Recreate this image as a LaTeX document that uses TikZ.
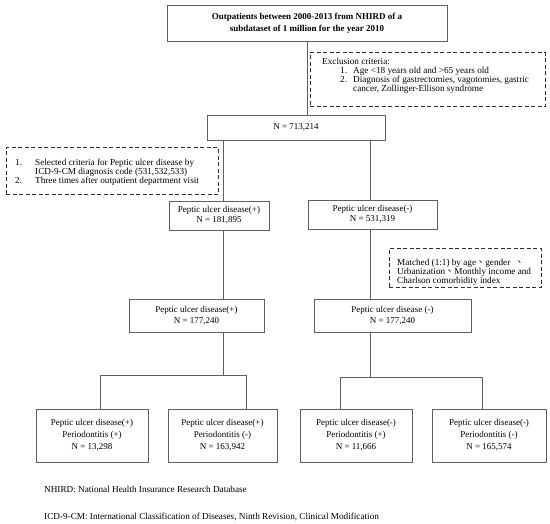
\documentclass[tikz,border=0pt]{standalone}
\usepackage{fontspec}
\setmainfont{Liberation Serif}
\newfontfamily\cjk{Noto Sans CJK TC}
\begin{document}
\begin{tikzpicture}[x=1pt,y=-1pt,
  lc/.style={draw={rgb,255:red,95;green,95;blue,95}, line width=0.9pt},
  sbox/.style={lc, inner sep=0pt, align=center, font=\fontsize{9}{10}\selectfont},
  dbox/.style={draw={rgb,255:red,45;green,45;blue,45}, line width=1pt, dash pattern=on 4pt off 2.5pt, inner sep=0pt},
  lbl/.style={inner sep=0pt, align=left, anchor=north west, font=\fontsize{9.2}{9}\selectfont},
  foot/.style={inner sep=0pt, anchor=base west, font=\fontsize{9.2}{10}\selectfont},
  conn/.style={lc}
]
\useasboundingbox (0,0) rectangle (550,524);
\fill[white] (0,0) rectangle (550,524);

% boxes
\node[sbox, minimum width=280pt, minimum height=36pt, font=\bfseries\fontsize{9}{12}\selectfont] (top) at (307,23)
  {Outpatients between 2000-2013 from NHIRD of a\\subdataset of 1 million for the year 2010};

\node[dbox, minimum width=235pt, minimum height=54pt] (excl) at (427.5,80) {};
\node[lbl] (excltxt) at (322,58)
  {Exclusion criteria:\\
   \hspace*{18pt}\makebox[13pt][l]{1.}Age <18 years old and >65 years old\\
   \hspace*{18pt}\makebox[13pt][l]{2.}Diagnosis of gastrectomies, vagotomies, gastric\\
   \hspace*{31pt}cancer, Zollinger-Ellison syndrome};

\node[sbox, minimum width=178pt, minimum height=25pt] (n) at (296,127.5) {N = 713,214};

\node[dbox, minimum width=212pt, minimum height=47pt] (sel) at (112,171.5) {};
\node[lbl] (seltxt) at (15,158.5)
  {\makebox[20pt][l]{1.}Selected criteria for Peptic ulcer disease by\\
   \hspace*{20pt}ICD-9-CM diagnosis code (531,532,533)\\
   \makebox[20pt][l]{2.}Three times after outpatient department visit};

\node[sbox, minimum width=100pt, minimum height=29pt] (pp) at (219,215.5) {Peptic ulcer disease(+)\\N = 181,895};
\node[sbox, minimum width=129pt, minimum height=29pt] (pm) at (372.5,214.5) {Peptic ulcer disease(-)\\N = 531,319};

\node[dbox, minimum width=152pt, minimum height=39pt] (match) at (465,268.5) {};
\node[lbl] (matchtxt) at (397,258.5)
  {Matched (1:1) by age{\cjk 、}gender \ {\cjk 、}\\
   Urbanization{\cjk 、}Monthly income and\\
   Charlson comorbidity index};

\node[sbox, minimum width=135pt, minimum height=33pt, font=\fontsize{9}{11}\selectfont] (pp2) at (196.5,315.5) {Peptic ulcer disease(+)\\N = 177,240};
\node[sbox, minimum width=157pt, minimum height=33pt, font=\fontsize{9}{11}\selectfont] (pm2) at (392.5,315.5) {Peptic ulcer disease (-)\\N = 177,240};

\tikzset{bb/.style={sbox, minimum height=53pt, font=\fontsize{9}{12}\selectfont}}
\node[bb, minimum width=112pt] (b1) at (92,435.5) {Peptic ulcer disease(+)\\Periodontitis (+)\\N = 13,298};
\node[bb, minimum width=109pt] (b2) at (222.5,435.5) {Peptic ulcer disease(+)\\Periodontitis (-)\\N = 163,942};
\node[bb, minimum width=112pt] (b3) at (356,435.5) {Peptic ulcer disease(-)\\Periodontitis (+)\\N = 11,666};
\node[bb, minimum width=114pt] (b4) at (489,435.5) {Peptic ulcer disease(-)\\Periodontitis (-)\\N = 165,574};

% connector columns and junctions
\coordinate (cl) at (223,0);
\coordinate (cr) at (370,0);
\coordinate (jl) at (223,375);
\coordinate (jr) at (370,377.5);
\coordinate (hl1) at (100,375);
\coordinate (hl2) at (246,375);
\coordinate (hr1) at (340,377.5);
\coordinate (hr2) at (482,377.5);

\draw[conn] (top.south) -- (top.south |- n.north);
\draw[conn] (n.south -| cl) -- (pp.north -| cl);
\draw[conn] (n.south -| cr) -- (pm.north -| cr);
\draw[conn] (pp.south -| cl) -- (pp2.north -| cl);
\draw[conn] (pm.south -| cr) -- (pm2.north -| cr);
\draw[conn] (pp2.south -| cl) -- (jl);
\draw[conn] (pm2.south -| cr) -- (jr);
\draw[conn] (hl1 |- b1.north) -- (hl1) -- (hl2) -- (hl2 |- b2.north);
\draw[conn] (hr1 |- b3.north) -- (hr1) -- (hr2) -- (hr2 |- b4.north);

% footnotes
\node[foot] (f1) at (44,493) {NHIRD: National Health Insurance Research Database};
\node[foot] (f2) at (44,519.5) {ICD-9-CM: International Classification of Diseases, Ninth Revision, Clinical Modification};
\end{tikzpicture}
\end{document}
